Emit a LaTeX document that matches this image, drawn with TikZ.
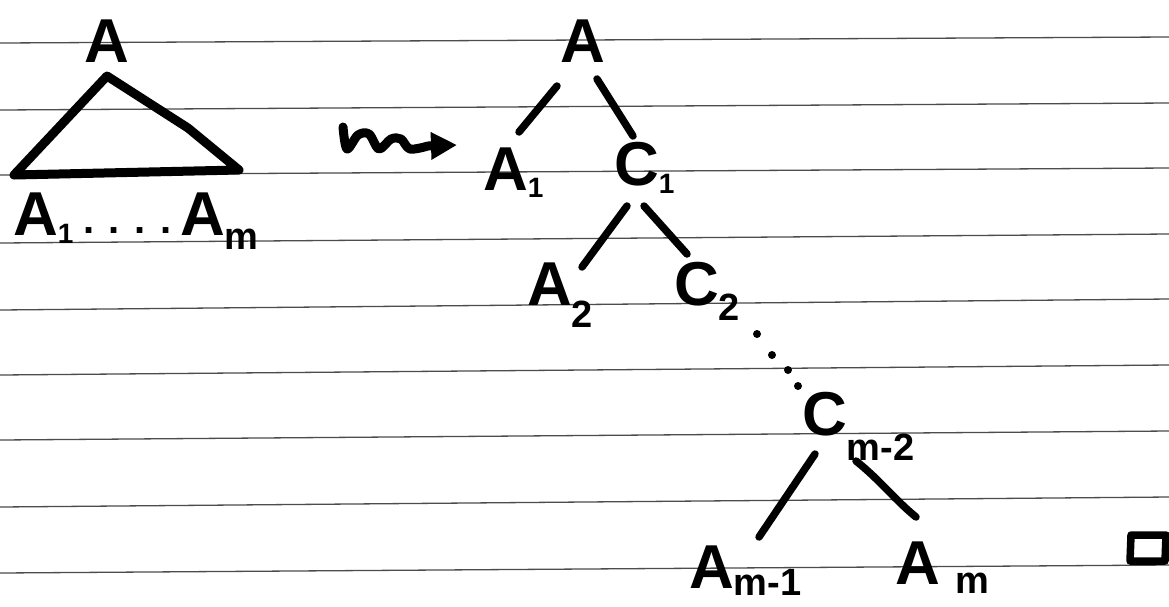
\documentclass[tikz,border=0pt]{standalone}
\usepackage{fontspec}
\setmainfont{Liberation Sans}
\usetikzlibrary{arrows.meta}
\newcommand\lowr[2][14pt]{\raisebox{-#1}{\fontsize{38}{40}\selectfont\bfseries #2}}
\newcommand\lowd[2][6pt]{\raisebox{-#1}{\fontsize{28}{30}\selectfont\bfseries #2}}
\tikzset{
  lbl/.style={anchor=base west, inner sep=0pt, outer sep=0pt, font=\fontsize{62}{64}\selectfont\bfseries},
  edge/.style={line width=7.5pt, line cap=round},
  ruled/.style={line width=1.3pt, black!70},
}
\begin{document}
\begin{tikzpicture}[x=1pt,y=-1pt]
\fill[white] (0,0) rectangle (1169,606);
\useasboundingbox (0,0) rectangle (1169,606);
% ruled paper
\foreach \yl/\yr in {43/37,110/103,175/168,243/234,310/299,375/365,440/431,507/497,573/565}
  \draw[ruled] (0,\yl) -- (1169,\yr);

% ---- left: triangle
\node[lbl] (LA) at (84,62) {A};
\coordinate (t1) at (107,76);
\coordinate (t2) at (188,128);
\coordinate (t3) at (239,170);
\coordinate (t4) at (14,175);
\draw[line width=9pt, line join=round, line cap=round] (t1) -- (t2) -- (t3) -- (t4) -- cycle;
\node[lbl] (LA1) at (13,235) {A\lowd[8pt]{1}};
\node[lbl, font=\fontsize{40}{42}\selectfont\bfseries] (Ldots) at (83,233) {. . . .};
\node[lbl] (LAm) at (180,235) {A\lowr[14pt]{m}};

% ---- squiggle arrow
\draw[line width=9pt, line cap=round, line join=round, -{Triangle[length=26pt,width=26pt]}]
  plot[smooth, tension=0.55] coordinates {(343,127) (347,149) (358,135) (369,134) (379,149) (391,139) (401,139) (410,149) (428,146)}
  -- (457,145);

% ---- right tree
\node[lbl] (RA) at (560,62) {A};
\node[lbl] (A1) at (483,190) {A\lowd[7pt]{1}};
\node[lbl] (C1) at (614,185) {C\lowd[8pt]{1}};
\node[lbl] (A2) at (527,305) {A\lowr[22pt]{2}};
\node[lbl] (C2) at (674,305) {C\lowr[15pt]{2}};
\node[lbl] (Cm2) at (802,435) {C\lowr[25pt]{m-2}};
\node[lbl] (Am1) at (689,588) {A\lowr[7pt]{m-1}};
\node[lbl] (Am) at (895,584) {A\hspace{16pt}\lowr[9pt]{m}};

% edges (free ends)
\coordinate (e1a) at (557,86);  \coordinate (e1b) at (519,132);
\coordinate (e2a) at (597,79);  \coordinate (e2b) at (633,136);
\coordinate (e3a) at (627,206); \coordinate (e3b) at (582,267);
\coordinate (e4a) at (644,206); \coordinate (e4b) at (687,254);
\coordinate (e5a) at (815,454); \coordinate (e5b) at (759,537);
\coordinate (e6a) at (856,461); \coordinate (e6b) at (916,517);
\draw[edge] (e1a) -- (e1b);
\draw[edge] (e2a) -- (e2b);
\draw[edge] (e3a) -- (e3b);
\draw[edge] (e4a) -- (e4b);
\draw[edge] (e5a) -- (e5b);
\draw[edge] (e6a) .. controls (880,480) and (895,500) .. (e6b);

% dots from C2 to Cm-2
\foreach \p in {(757,334),(772,355),(788,370),(798,386)}
  \fill \p circle (4pt);

% end-of-proof square
\coordinate (q1) at (1131,535);
\draw[line width=7.5pt, line join=round] (q1) -- (1166,535) -- (1165,561) -- (1130,561) -- cycle;
\end{tikzpicture}
\end{document}
